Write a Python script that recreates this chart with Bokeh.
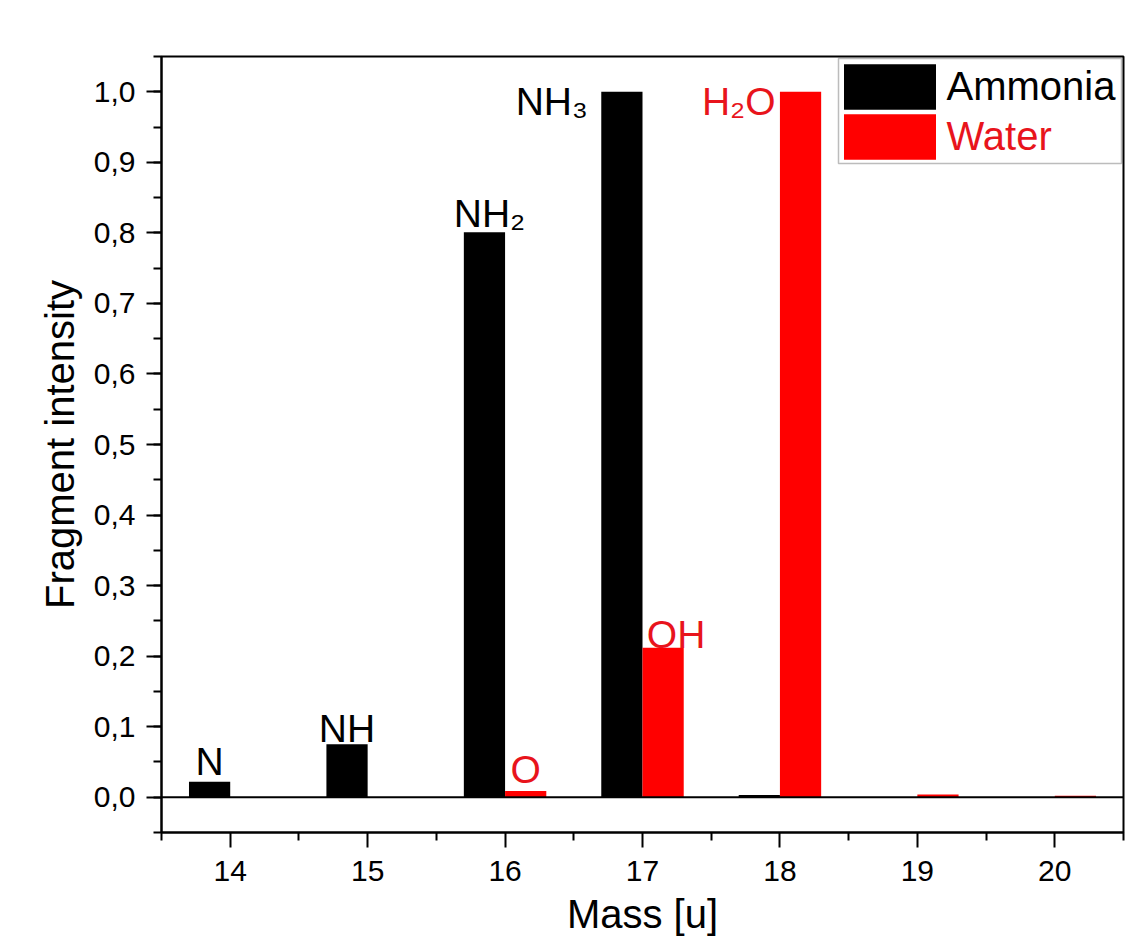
from bokeh.plotting import figure
from bokeh.models import (FixedTicker, CustomJSTickFormatter, Span, Legend,
                          LegendItem, BoxAnnotation, Range1d, ColumnDataSource)
from bokeh.transform import dodge
from bokeh.embed import file_html
from bokeh.resources import INLINE
from bokeh.core.properties import value

# ---------------- data ----------------
masses = [14, 15, 16, 17, 18, 19, 20]
ammonia = [0.022, 0.075, 0.801, 1.000, 0.003, 0.0, 0.0]
water = [0.0, 0.0, 0.009, 0.212, 1.000, 0.004, 0.002]

x_tick_values = [14, 15, 16, 17, 18, 19, 20]
y_tick_values = [0.0, 0.1, 0.2, 0.3, 0.4, 0.5, 0.6, 0.7, 0.8, 0.9, 1.0]

label_texts = ["N", "NH", "NH\u2082", "NH\u2083", "O", "OH", "H\u2082O"]
label_series = ["Ammonia", "Ammonia", "Ammonia", "Ammonia", "Water", "Water", "Water"]
label_masses = [14, 15, 16, 17, 16, 17, 18]

series_names = ["Ammonia", "Water"]

# ---------------- styling ----------------
FONT = "Liberation Sans"
RED = "#FF0000"
colors = {"Ammonia": "black", "Water": RED}
text_colors = {"Ammonia": "black", "Water": "#E8141C"}
shift = {"Ammonia": -0.15, "Water": 0.15}
bar_width = 0.3
# label placement: (align, x_offset px, y_offset px)
label_place = [("center", 0, -20), ("center", 0, -16), ("center", 5, -19),
               ("right", -34, 10), ("center", 0, -21), ("center", 13, -13),
               ("right", -25, 10)]

p = figure(frame_width=962, frame_height=776,
           min_border_left=161, min_border_top=56, min_border_right=6, min_border_bottom=0,
           x_range=Range1d(13.5, 20.5), y_range=Range1d(-0.05, 1.05),
           output_backend="svg", toolbar_location=None)
p.background_fill_color = "white"
p.border_fill_color = "white"
p.outline_line_color = "black"
p.outline_line_width = 2
p.xgrid.visible = False
p.ygrid.visible = False

src = ColumnDataSource(dict(mass=masses, ammonia=ammonia, water=water))

zero = Span(location=0, dimension="width", line_color="black", line_width=2)
p.add_layout(zero)

r_amm = p.vbar(x=dodge("mass", shift["Ammonia"], range=p.x_range), top="ammonia",
               width=bar_width, bottom=0, source=src, fill_color=colors["Ammonia"],
               line_color=None)
r_wat = p.vbar(x=dodge("mass", shift["Water"], range=p.x_range), top="water",
               width=bar_width, bottom=0, source=src, fill_color=colors["Water"],
               line_color=None)

# labels
series_vals = {"Ammonia": ammonia, "Water": water}
lx, ly, lc, la, ldx, ldy = [], [], [], [], [], []
for t, s, m, (al, dx, dy) in zip(label_texts, label_series, label_masses, label_place):
    i = masses.index(m)
    lx.append(m + shift[s])
    ly.append(series_vals[s][i])
    lc.append(text_colors[s])
    la.append(al)
    ldx.append(dx)
    ldy.append(dy)
lsrc = ColumnDataSource(dict(x=lx, y=ly, text=label_texts, color=lc, align=la, dx=ldx, dy=ldy))
p.text(x="x", y="y", text="text", text_color="color", text_align="align",
       x_offset="dx", y_offset="dy", text_baseline="alphabetic",
       text_font=value(FONT), text_font_size="39px", source=lsrc)

# axes
p.xaxis.ticker = FixedTicker(ticks=x_tick_values,
                             minor_ticks=[v - 0.5 for v in x_tick_values] + [x_tick_values[-1] + 0.5])
minor_y = [round(-0.05 + 0.05 * k, 2) for k in range(23)]
p.yaxis.ticker = FixedTicker(ticks=y_tick_values, minor_ticks=minor_y)
p.yaxis.formatter = CustomJSTickFormatter(code="return tick.toFixed(1).replace('.', ',');")

for ax in (p.xaxis[0], p.yaxis[0]):
    ax.axis_line_width = 2
    ax.axis_line_color = "black"
    ax.major_tick_line_width = 2
    ax.minor_tick_line_width = 2
    ax.major_tick_in = 0
    ax.minor_tick_in = 0
    ax.major_tick_out = 15
    ax.minor_tick_out = 8
    ax.major_label_text_font = FONT
    ax.major_label_text_font_size = "30px"
    ax.major_label_text_color = "black"
    ax.axis_label_text_font = FONT
    ax.axis_label_text_font_size = "40px"
    ax.axis_label_text_font_style = "normal"
    ax.axis_label_text_color = "black"

p.xaxis.axis_label = "Mass [u]"
p.yaxis.axis_label = "Fragment intensity"
p.xaxis.major_label_standoff = 13
p.yaxis.major_label_standoff = 11
p.xaxis.axis_label_standoff = 8
p.yaxis.axis_label_standoff = 9

# legend: border box then two single-item legends (separate label colours)
box = BoxAnnotation(left=838, right=1121, top=58, bottom=163,
                    left_units="canvas", right_units="canvas", top_units="canvas",
                    bottom_units="canvas", fill_color="white", fill_alpha=1.0,
                    line_color="#222222", line_width=1.5)
p.add_layout(box)

leg_pos = [(670.5, 717.25), (670.5, 667.25)]
for name, rend, pos in zip(series_names, [r_amm, r_wat], leg_pos):
    lg = Legend(items=[LegendItem(label=name, renderers=[rend])], location=pos,
                glyph_width=115, glyph_height=57, label_height=57, label_standoff=0,
                padding=0, margin=0, spacing=0, border_line_color=None,
                background_fill_alpha=0, label_text_font=FONT,
                label_text_font_size="40px", label_text_color=text_colors[name],
                label_text_baseline="middle")
    p.add_layout(lg, "center")

open("out.html", "w").write(file_html(p, INLINE))
